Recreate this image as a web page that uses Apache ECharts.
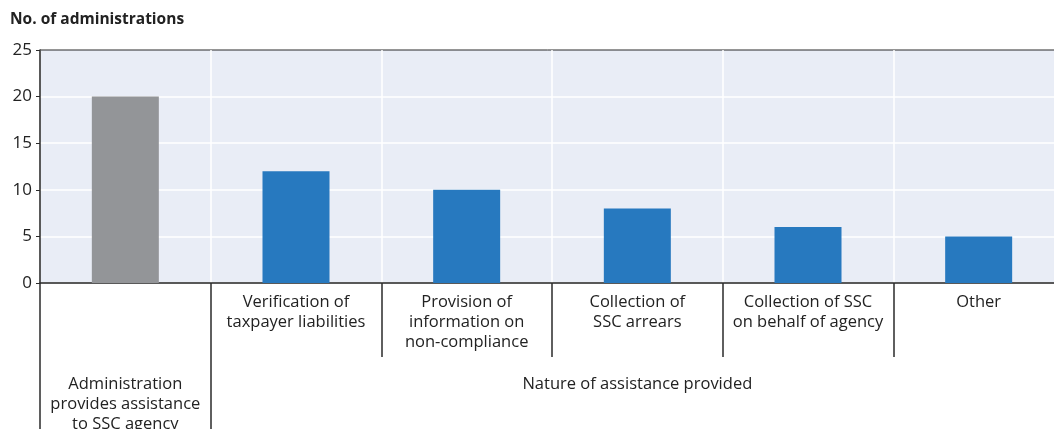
<!DOCTYPE html>
<html>
<head>
<meta charset="utf-8">
<script src="https://cdn.jsdelivr.net/npm/echarts@6/dist/echarts.min.js"></script>
<style>
  html, body { margin: 0; padding: 0; background: #fff; }
  #chart { width: 1054px; height: 429px; }
</style>
</head>
<body>
<div id="chart"></div>
<script>
  // categories shown just under the axis (first one is labelled lower down)
  var categories = ['', 'Verification of\ntaxpayer liabilities', 'Provision of\ninformation on\nnon-compliance',
    'Collection of\nSSC arrears', 'Collection of SSC\non behalf of agency', 'Other']
  // group labels on the second row
  var groups = ['Administration\nprovides assistance\nto SSC agency', '', '', 'Nature of assistance provided', '', '']
  var values = [20, 12, 10, 8, 6, 5]
  var yTicks = [0, 5, 10, 15, 20, 25]

  var dark = '#2b2b2b'
  var font = 'Open Sans'
  var chart = echarts.init(document.getElementById('chart'))

  chart.setOption({
    animation: false,
    title: {
      text: 'No. of administrations',
      left: 10,
      top: 12,
      padding: 0,
      textStyle: { fontFamily: font, fontSize: 15.5, fontWeight: 'bold', color: '#222' }
    },
    grid: {
      left: 40,
      top: 50,
      width: 1024,
      bottom: 146,
      outerBoundsMode: 'none',
      show: true,
      backgroundColor: '#e9edf6',
      borderColor: dark,
      borderWidth: 1
    },
    xAxis: [{
      type: 'category',
      data: categories,
      position: 'bottom',
      axisLine: { lineStyle: { color: dark, width: 1.5 } },
      axisTick: { show: true, length: 74, interval: 0, lineStyle: { color: dark, width: 1.5 } },
      axisLabel: {
        interval: 0, margin: 9, color: '#222',
        fontFamily: font, fontSize: 16.5, lineHeight: 20
      },
      splitLine: { show: true, interval: 0, lineStyle: { color: '#fff', width: 1.5 } }
    }, {
      type: 'category',
      data: groups,
      position: 'bottom',
      offset: 74,
      axisLine: { show: false },
      axisTick: {
        show: true, length: 80,
        interval: function (i) { return i <= 1 },
        lineStyle: { color: dark, width: 1.5 }
      },
      axisLabel: {
        interval: 0, margin: 17, color: '#222',
        fontFamily: font, fontSize: 16.5, lineHeight: 20
      }
    }],
    yAxis: {
      type: 'value',
      min: yTicks[0],
      max: yTicks[yTicks.length - 1],
      interval: 5,
      axisLine: { show: true, lineStyle: { color: dark, width: 1.5 } },
      axisTick: { show: true, length: 4, lineStyle: { color: dark } },
      axisLabel: { margin: 8, color: '#222', fontFamily: font, fontSize: 17 },
      splitLine: { show: true, showMaxLine: false, lineStyle: { color: '#fff', width: 1.5 } }
    },
    series: [{
      type: 'bar',
      xAxisIndex: 0,
      barWidth: 67,
      data: values.map(function (v, i) {
        return { value: v, itemStyle: { color: i === 0 ? '#939598' : '#2779bf' } }
      })
    }]
  })
</script>
</body>
</html>
